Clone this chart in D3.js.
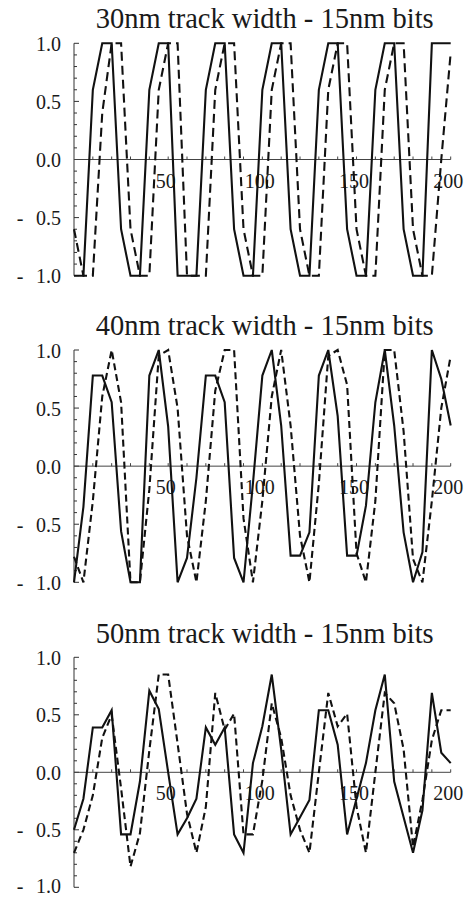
<!DOCTYPE html>
<html><head><meta charset="utf-8">
<script src="https://cdnjs.cloudflare.com/ajax/libs/d3/7.8.5/d3.min.js"></script>
<style>
html,body{margin:0;padding:0;background:#fff;}
svg{display:block;}
</style></head>
<body>
<svg id="chart" width="468" height="897"></svg>
<script>
// ---- data ----
const positions = [0,5,10,15,20,25,30,35,40,45,50,55,60,65,70,75,80,85,90,95,100,105,110,115,120,125,130,135,140,145,150,155,160,165,170,175,180,185,190,195,200];

const titles = ["30nm track width - 15nm bits","40nm track width - 15nm bits","50nm track width - 15nm bits"];

const solid30  = [-1,-1,0.6,1,1,-0.6,-1,-1,0.6,1,1,-1,-1,-1,0.6,1,1,-0.6,-1,-1,0.6,1,1,-0.6,-1,-1,0.6,1,1,-0.6,-1,-1,0.6,1,1,-0.6,-1,-1,1,1,1];
const dashed30 = [-0.6,-1,-1,0.4,1,1,-0.6,-1,-1,0.6,1,1,-1,-1,-1,0.6,1,1,-0.6,-1,-1,0.6,1,1,-0.6,-1,-1,0.6,1,1,-0.6,-1,-1,0.6,1,1,-0.6,-1,-1,0,0.92];

const solid40  = [-1,-0.35,0.78,0.78,0.55,-0.56,-1,-1,0.78,1,0.34,-1,-0.79,-0.1,0.78,0.78,0.55,-0.79,-1,-0.15,0.78,1,0.35,-0.77,-0.77,-0.57,0.78,1,0.43,-0.77,-0.77,-0.34,0.55,1,0.35,-0.57,-1,-0.74,1,0.75,0.35];
const dashed40 = [-0.78,-1,-0.3,0.6,1,0.55,-1,-1,-0.2,0.95,1,0.5,-0.6,-1,-0.3,0.65,1,1,-0.45,-1,-0.3,0.6,1,0.35,-0.6,-1,-0.15,0.95,1,0.7,-0.75,-1,-0.3,1,1,0.3,-0.8,-1,-0.3,0.5,0.95];

const solid50  = [-0.5,-0.23,0.39,0.39,0.54,-0.54,-0.54,-0.08,0.71,0.55,0,-0.54,-0.4,-0.23,0.39,0.24,0.39,-0.54,-0.7,0.08,0.4,0.85,0.2,-0.54,-0.39,-0.24,0.54,0.54,0.24,-0.54,-0.23,0.08,0.54,0.85,-0.08,-0.39,-0.7,-0.33,0.69,0.17,0.08];
const dashed50 = [-0.7,-0.5,-0.2,0.3,0.5,-0.14,-0.82,-0.53,0.19,0.85,0.85,0.25,-0.36,-0.7,-0.3,0.69,0.37,0.51,-0.54,-0.54,-0.07,0.6,0.3,-0.2,-0.5,-0.7,0,0.69,0.4,0.51,-0.3,-0.7,0,0.69,0.6,0.2,-0.65,-0.24,0.28,0.54,0.54];

const xTickValues = [50,100,150,200];
const xTickLabels = ["50","100","150","200"];
const yTickValues = [1,0.5,0,-0.5,-1];
const yTickLabels = ["1.0","0.5","0.0","0.5","1.0"];
const yTickNeg    = [false,false,false,true,true];

const panels = [
  {title: titles[0], solid: solid30, dashed: dashed30},
  {title: titles[1], solid: solid40, dashed: dashed40},
  {title: titles[2], solid: solid50, dashed: dashed50}
];

// ---- layout ----
const layout = [
  {titleY: 28, yTop: 43.3, yBot: 275.7, dash: "9,5"},
  {titleY: 335, yTop: 350, yBot: 582.3, dash: "7,4"},
  {titleY: 643, yTop: 657.3, yBot: 887.3, dash: "7,4"}
];
const axisLeft = 74, axisRight = 450.7;
const svg = d3.select("#chart");
const x = d3.scaleLinear().domain([0,200]).range([axisLeft, axisRight]);
const FONT = "'Liberation Serif','Times New Roman',Times,serif";

panels.forEach((p,i) => {
  const L = layout[i];
  const y = d3.scaleLinear().domain([-1,1]).range([L.yBot, L.yTop]);
  const g = svg.append("g");

  // title
  g.append("text").attr("x", 264.7).attr("y", L.titleY)
    .attr("text-anchor","middle").attr("font-family",FONT).attr("font-size",28.5)
    .attr("fill","#1a1a1a").text(p.title);

  // y axis line
  g.append("line").attr("x1",axisLeft).attr("x2",axisLeft)
    .attr("y1",y(1)).attr("y2",y(-1)).attr("stroke","#333").attr("stroke-width",1);
  // y minor ticks
  const minor = d3.range(-10,11).map(v=>v/10);
  g.selectAll(".ymt").data(minor).enter().append("line")
    .attr("x1",axisLeft).attr("x2",d=>axisLeft + (Math.abs(Math.round(d*10))%5===0 ? 5 : 3))
    .attr("y1",d=>y(d)).attr("y2",d=>y(d)).attr("stroke","#333").attr("stroke-width",1);
  // y labels
  yTickValues.forEach((v,k)=>{
    const by = Math.min(y(v)+7.5, 893);
    g.append("text").attr("x",61).attr("y",by).attr("text-anchor","end")
      .attr("font-family",FONT).attr("font-size",20).attr("fill","#1a1a1a").text(yTickLabels[k]);
    if (yTickNeg[k]) {
      g.append("text").attr("x",20).attr("y",by).attr("text-anchor","middle")
        .attr("font-family",FONT).attr("font-size",20).attr("fill","#1a1a1a").text("-");
    }
  });

  // x axis line at 0
  g.append("line").attr("x1",axisLeft).attr("x2",axisRight)
    .attr("y1",y(0)).attr("y2",y(0)).attr("stroke","#444").attr("stroke-width",1);
  const xminor = d3.range(10,201,10);
  g.selectAll(".xmt").data(xminor).enter().append("line")
    .attr("x1",d=>x(d)).attr("x2",d=>x(d))
    .attr("y1",y(0)).attr("y2",d=> y(0) - 3)
    .attr("stroke","#444").attr("stroke-width",1);
  xTickValues.forEach((v,k)=>{
    g.append("text").attr("x",x(v)-2.5).attr("y",y(0)+28).attr("text-anchor","middle")
      .attr("font-family",FONT).attr("font-size",20).attr("fill","#1a1a1a").text(xTickLabels[k]);
  });

  // lines
  const line = d3.line().x((d,k)=>x(positions[k])).y(d=>y(d));
  g.append("path").attr("d", line(p.dashed)).attr("fill","none")
    .attr("stroke","#111").attr("stroke-width",2.1).attr("stroke-dasharray",L.dash);
  g.append("path").attr("d", line(p.solid)).attr("fill","none")
    .attr("stroke","#111").attr("stroke-width",2.1).attr("stroke-linejoin","miter");
});
</script>
</body></html>
